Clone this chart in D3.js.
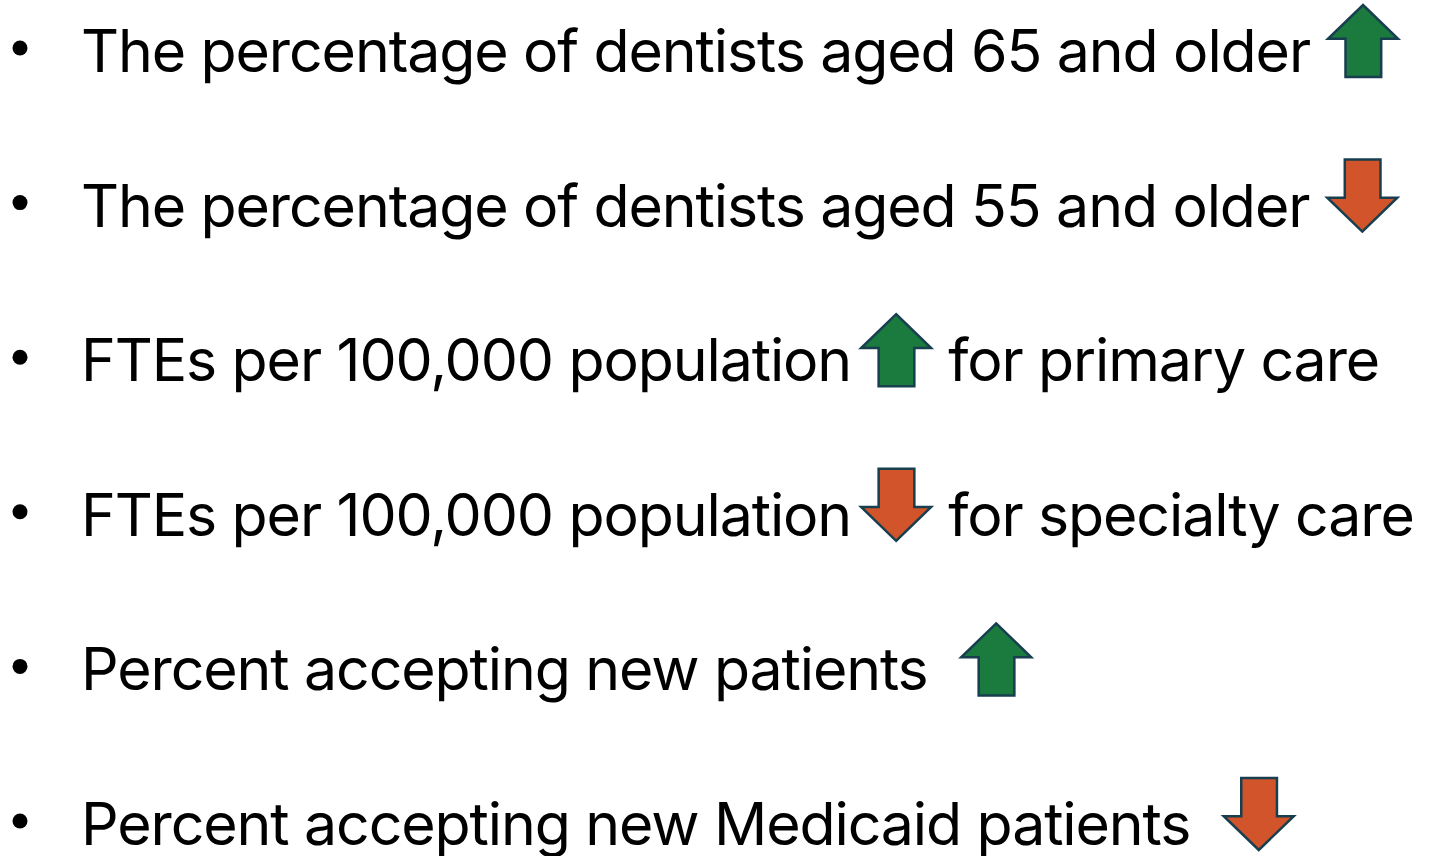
<!DOCTYPE html>
<html>
<head>
<meta charset="utf-8">
<script src="https://cdn.jsdelivr.net/npm/d3@7"></script>
<style>
  body { margin: 0; background: #fff; }
  text { font-family: Inter, "Open Sans", sans-serif; fill: #000; white-space: pre; }
</style>
</head>
<body>
<svg id="chart" width="1434" height="856"></svg>
<script>
// text before the arrow, arrow direction, text after the arrow
var beforeText = [
  'The percentage of dentists aged 65 and older',
  'The percentage of dentists aged 55 and older',
  'FTEs per 100,000 population',
  'FTEs per 100,000 population',
  'Percent accepting new patients ',
  'Percent accepting new Medicaid patients '
];
var direction = ['up', 'down', 'up', 'down', 'up', 'down'];
var afterText = ['', '', 'for primary care', 'for specialty care', '', ''];

var width = 1434, height = 856;
var textLeft = 81, bulletX = 20;
var arrowW = 70, arrowH = 72;
var fontSize = 59;
var colors = { up: '#1b7a3e', down: '#d2542a' };

var svg = d3.select('#chart');

var rows = d3.range(beforeText.length);
var y = d3.scalePoint().domain(rows).range([72, 845]);

// tighten tracking so the first line spans the same width as in the source
var probe = svg.append('text').attr('font-size', fontSize).text(beforeText[0]);
var spacing = (1229 - probe.node().getComputedTextLength()) / beforeText[0].length;
probe.remove();

var arrowShape = function(dir) {
  // drawn in a 0..1 box, tip on top for 'up'
  var pts = [[0.5, 0], [1, 0.47], [0.76, 0.47], [0.76, 1], [0.25, 1], [0.25, 0.47], [0, 0.47]];
  if (dir === 'down') pts = pts.map(function(p) { return [p[0], 1 - p[1]]; });
  var sx = d3.scaleLinear().range([0, arrowW]);
  var sy = d3.scaleLinear().range([0, arrowH]);
  return d3.line().x(function(p) { return sx(p[0]); }).y(function(p) { return sy(p[1]); }).curve(d3.curveLinearClosed)(pts);
};

var row = svg.selectAll('.row')
  .data(rows)
  .enter().append('g')
  .attr('class', 'row')
  .attr('transform', function(i) { return 'translate(0,' + y(i) + ')'; });

row.append('circle')
  .attr('cx', bulletX)
  .attr('cy', -24)
  .attr('r', 7.5)
  .attr('fill', '#000');

row.each(function(i) {
  var g = d3.select(this);
  var t1 = g.append('text')
    .attr('x', textLeft)
    .attr('font-size', fontSize)
    .attr('letter-spacing', spacing)
    .text(beforeText[i]);
  var end = textLeft + t1.node().getComputedTextLength();
  var ax = end + (afterText[i] ? 10 : 18);
  g.append('path')
    .attr('d', arrowShape(direction[i]))
    .attr('transform', 'translate(' + ax + ',' + (-67) + ')')
    .attr('fill', colors[direction[i]])
    .attr('stroke', '#173f4f')
    .attr('stroke-width', 2.5)
    .attr('stroke-linejoin', 'miter');
  if (afterText[i]) {
    g.append('text')
      .attr('x', ax + arrowW + 17)
      .attr('font-size', fontSize)
      .attr('letter-spacing', spacing)
      .text(afterText[i]);
  }
});
</script>
</body>
</html>
